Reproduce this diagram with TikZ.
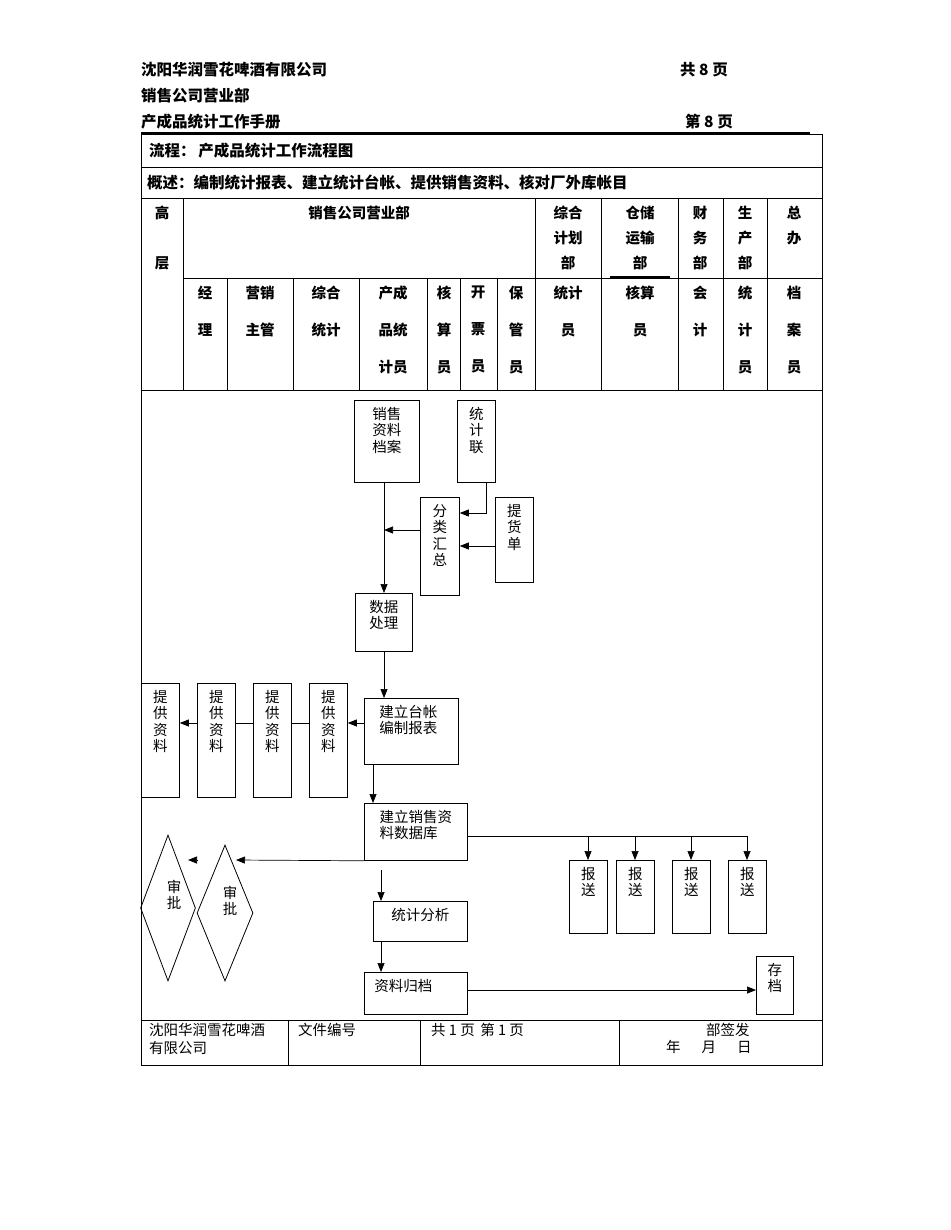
\documentclass[tikz,border=0pt]{standalone}
\usepackage{fontspec}
\setmainfont{Noto Sans CJK SC}
\usetikzlibrary{shapes.geometric,arrows.meta}
\begin{document}
\begin{tikzpicture}[x=1pt,y=-1pt,
 bx/.style={draw,line width=0.8pt,inner sep=0pt},
 lb/.style={anchor=north,font=\fontsize{14.5}{16.5}\selectfont,align=center,inner sep=0pt},
 hd/.style={font=\bfseries\fontsize{15.5}{17}\selectfont,inner sep=0pt},
 th/.style={font=\bfseries\fontsize{14.5}{25}\selectfont,align=center,inner sep=0pt,anchor=north},
 ar/.style={-{Triangle[length=9pt,width=7pt]},line width=0.7pt},
 ln/.style={line width=0.7pt}]
\useasboundingbox (0,0) rectangle (950,1230);
% page header
\node[hd,anchor=west] (h1) at (141,70) {沈阳华润雪花啤酒有限公司};
\node[hd,anchor=west] (h2) at (680,70) {共 8 页};
\node[hd,anchor=west] (h3) at (141,96) {销售公司营业部};
\node[hd,anchor=west] (h4) at (141,122) {产成品统计工作手册};
\node[hd,anchor=west] (h5) at (685,122) {第 8 页};
\draw[line width=1.2pt] (141,133) -- (810,133);
% table
\draw[ln] (141,134) rectangle (822,1065);
\draw[ln] (141,167) -- (822,167);
\draw[ln] (141,198) -- (822,198);
\draw[ln] (183,278) -- (822,278);
\draw[ln] (141,390) -- (822,390);
\foreach \x in {183,535,601,678,723,767} \draw[ln] (\x,198) -- (\x,390);
\foreach \x in {227,293,359,427,460,497} \draw[ln] (\x,278) -- (\x,390);
\draw[line width=1.2pt] (610,277) -- (670,277);
\node[hd,anchor=west] (t1) at (149,151) {流程：\,产成品统计工作流程图};
\node[hd,anchor=west] (t2) at (147,183) {概述：编制统计报表、建立统计台帐、提供销售资料、核对厂外库帐目};
\node[th] (c0) at (162,206) {高\\[\baselineskip]层};
\node[th] (c1) at (359,206) {销售公司营业部};
\node[th] (c2) at (568,206) {综合\\计划\\部};
\node[th] (c3) at (640,206) {仓储\\运输\\部};
\node[th] (c4) at (700,206) {财\\务\\部};
\node[th] (c5) at (745,206) {生\\产\\部};
\node[th] (c6) at (794,206) {总\\办};
\tikzset{th2/.style={th,font=\bfseries\fontsize{14.5}{37}\selectfont}}
\node[th2] (d1) at (205,286) {经\\理};
\node[th2] (d2) at (260,286) {营销\\主管};
\node[th2] (d3) at (326,286) {综合\\统计};
\node[th2] (d4) at (393,286) {产成\\品统\\计员};
\node[th2] (d5) at (444,286) {核\\算\\员};
\node[th2] (d6) at (478,286) {开\\票\\员};
\node[th2] (d7) at (516,286) {保\\管\\员};
\node[th2] (d8) at (568,286) {统计\\员};
\node[th2] (d9) at (640,286) {核算\\员};
\node[th2] (d10) at (700,286) {会\\计};
\node[th2] (d11) at (745,286) {统\\计\\员};
\node[th2] (d12) at (794,286) {档\\案\\员};
% boxes
\newcommand\mybox[6]{\node[bx,minimum width=#4,minimum height=#5,anchor=north west] (#1) at (#2,#3) {};
 \node[lb] (#1t) at ([yshift=-7pt]#1.north) {#6};}
\mybox{xs}{354}{400}{65pt}{82pt}{销售\\资料\\档案}
\mybox{tj}{457}{400}{38pt}{82pt}{统\\计\\联}
\mybox{fl}{420}{497}{39pt}{98pt}{分\\类\\汇\\总}
\mybox{th}{495}{497}{38pt}{85pt}{提\\货\\单}
\mybox{sj}{355}{593}{57pt}{58pt}{数据\\处理}
\mybox{tz}{364}{698}{94pt}{66pt}{建立台帐\hspace*{6pt}\\编制报表\hspace*{6pt}}
\mybox{p1}{141}{683}{38pt}{114pt}{提\\供\\资\\料}
\mybox{p2}{197}{683}{38pt}{114pt}{提\\供\\资\\料}
\mybox{p3}{253}{683}{38pt}{114pt}{提\\供\\资\\料}
\mybox{p4}{309}{683}{38pt}{114pt}{提\\供\\资\\料}
\mybox{ku}{364}{803}{103pt}{57pt}{建立销售资\\料数据库\hspace*{14.5pt}}
\mybox{fx}{373}{901}{94pt}{40pt}{统计分析}
\mybox{gd}{364}{972}{103pt}{42pt}{资料归档\hspace*{25pt}}
\mybox{b1}{569}{860}{38pt}{73pt}{报\\送}
\mybox{b2}{616}{860}{38pt}{73pt}{报\\送}
\mybox{b3}{672}{860}{38pt}{73pt}{报\\送}
\mybox{b4}{728}{860}{38pt}{73pt}{报\\送}
\mybox{cd}{756}{956}{37pt}{58pt}{存\\档}
\node[diamond,draw,line width=0.8pt,minimum width=55pt,minimum height=146pt,inner sep=0pt,aspect=0.38] (s1) at (168,908) {};
\node[diamond,draw,line width=0.8pt,minimum width=56pt,minimum height=136pt,inner sep=0pt,aspect=0.41] (s2) at (225,913) {};
\node[lb] (s1t) at (174,880) {审\\批};
\node[lb] (s2t) at (230,886) {审\\批};
% arrows
\draw[ar] (xs.south -| 384,0) -- (sj.north -| 384,0);
\draw[ar] (tj.south -| 486,0) |- (fl.east |- 0,513);
\draw[ar] (th.west |- 0,546) -- (fl.east |- 0,546);
\draw[ar] (fl.west |- 0,530) -- (384,530);
\draw[ar] (sj.south -| 384,0) -- (tz.north -| 384,0);
\draw[ar] (tz.west |- 0,723) -- (p4.east |- 0,723);
\draw[ln] (p4.west |- 0,723) -- (p3.east |- 0,723);
\draw[ln] (p3.west |- 0,723) -- (p2.east |- 0,723);
\draw[ar] (p2.west |- 0,723) -- (p1.east |- 0,723);
\draw[ar] (tz.south -| 373,0) -- (ku.north -| 373,0);
\draw[ar] (ku.south west) -- (236,860);
\coordinate (s2n) at (197,860);
\draw[ar] (s2n) -- (188,860);
\draw[ln] (ku.east |- 0,836) -- (747,836);
\foreach \b/\x in {b1/588,b2/635,b3/691,b4/747} \draw[ar] (\x,836) -- (\b.north -| \x,0);
\coordinate (fxs) at (381,870);
\draw[ar] (fxs) -- (fx.north -| 381,0);
\draw[ar] (fx.south -| 381,0) -- (gd.north -| 381,0);
\draw[ar] (gd.east |- 0,990) -- (cd.west |- 0,990);
% footer
\draw[ln] (141,1020) -- (822,1020);
\foreach \x in {288,420,619} \draw[ln] (\x,1020) -- (\x,1065);
\tikzset{ft/.style={font=\fontsize{14.5}{18}\selectfont,align=left,inner sep=0pt,anchor=north west}}
\node[ft] (f1) at (149,1023) {沈阳华润雪花啤酒\\有限公司};
\node[ft] (f2) at (298,1023) {文件编号};
\node[ft] (f3) at (431,1023) {共 1 页 \,第 1 页};
\node[ft] (f4) at (706,1023) {部签发};
\node[ft] (f5) at (666,1040) {年\quad\ \ 月\quad\ \ 日};
\end{tikzpicture}
\end{document}
